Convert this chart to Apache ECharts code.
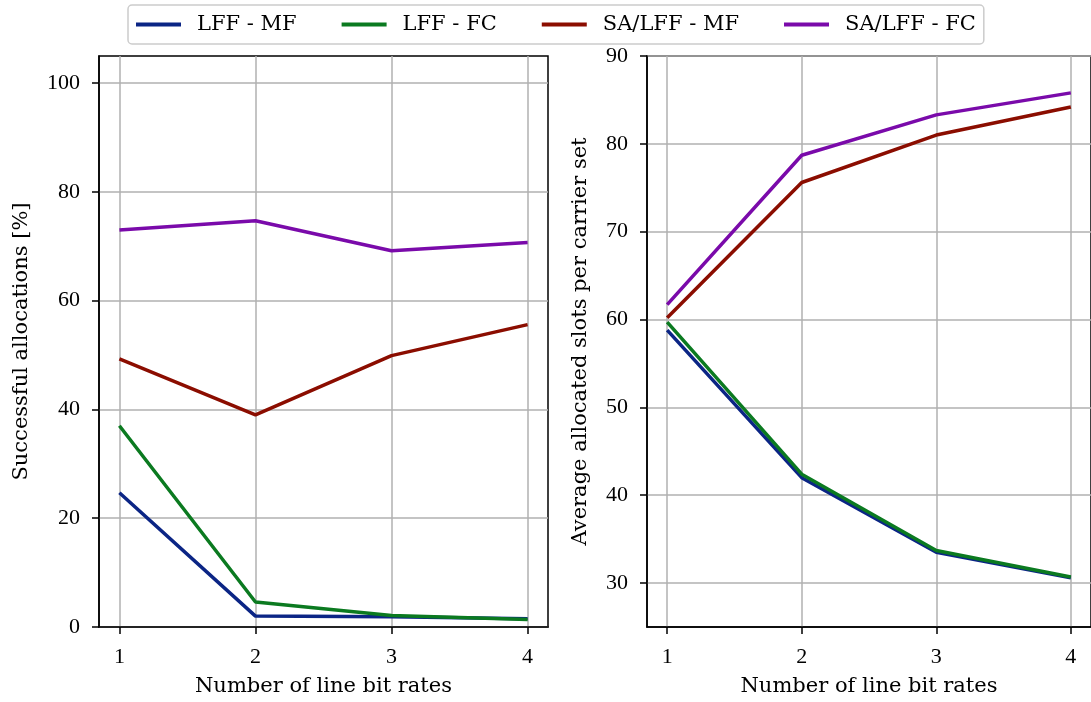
<!DOCTYPE html>
<html>
<head>
<meta charset="utf-8">
<script src="https://cdn.jsdelivr.net/npm/echarts@6/dist/echarts.min.js"></script>
<style>html,body{margin:0;padding:0;background:#fff;}#c{width:1091px;height:702px;}</style>
</head>
<body>
<div id="c"></div>
<script>
const xValues = [1, 2, 3, 4];
const seriesNames = ['LFF - MF', 'LFF - FC', 'SA/LFF - MF', 'SA/LFF - FC'];
const colors = ['#0b2585', '#0b7a20', '#8b0d00', '#7a0aaa'];

// Left: successful allocations [%]
const successLffMf = [24.7, 2.0, 1.9, 1.5];
const successLffFc = [37.0, 4.6, 2.1, 1.4];
const successSaMf = [49.3, 39.0, 49.9, 55.6];
const successSaFc = [73.0, 74.7, 69.2, 70.7];

// Right: average allocated slots per carrier set
const slotsLffMf = [58.8, 42.0, 33.5, 30.6];
const slotsLffFc = [59.7, 42.4, 33.7, 30.7];
const slotsSaMf = [60.2, 75.6, 81.0, 84.2];
const slotsSaFc = [61.7, 78.7, 83.3, 85.8];

const leftTicks = [0, 20, 40, 60, 80, 100];
const rightTicks = [30, 40, 50, 60, 70, 80, 90];

const NUM_FONT = 'Liberation Serif';
const NUM_FS = 22;
const TXT_FONT = 'DejaVu Serif';
const TXT_FS = 21;

function pairs(vals) { return xValues.map((x, i) => [x, vals[i]]); }

const leftData = [successLffMf, successLffFc, successSaMf, successSaFc];
const rightData = [slotsLffMf, slotsLffFc, slotsSaMf, slotsSaFc];

function xAxisCfg(gi) {
  return {
    gridIndex: gi, type: 'value', min: 0.85, max: 4.15,
    name: 'Number of line bit rates', nameLocation: 'middle', nameGap: 49,
    nameTextStyle: { fontFamily: TXT_FONT, fontSize: TXT_FS, color: '#000' },
    axisLine: { onZero: false, lineStyle: { color: '#000', width: 1.5 } },
    axisTick: { show: true, inside: false, length: 7, lineStyle: { color: '#000', width: 1.5 }, customValues: xValues },
    axisLabel: { fontFamily: NUM_FONT, fontSize: NUM_FS, color: '#000', margin: 19, customValues: xValues },
    splitLine: { show: true, lineStyle: { color: '#b0b0b0', width: 1.5 } }
  };
}
function yAxisCfg(gi, min, max, ticks, name) {
  return {
    gridIndex: gi, type: 'value', min: min, max: max,
    name: name, nameLocation: 'middle', nameGap: gi === 0 ? 67 : 56,
    nameTextStyle: { fontFamily: TXT_FONT, fontSize: TXT_FS, color: '#000' },
    axisLine: { onZero: false, lineStyle: { color: '#000', width: 1.5 } },
    axisTick: { show: true, inside: false, length: 7, lineStyle: { color: '#000', width: 1.5 }, customValues: ticks },
    axisLabel: { fontFamily: NUM_FONT, fontSize: NUM_FS, color: '#000', margin: 19, customValues: ticks },
    splitLine: { show: true, lineStyle: { color: '#b0b0b0', width: 1.5 } }
  };
}

const series = [];
seriesNames.forEach((n, i) => {
  series.push({ name: n, type: 'line', xAxisIndex: 0, yAxisIndex: 0, data: pairs(leftData[i]),
    showSymbol: false, symbol: 'none', lineStyle: { width: 3.5, color: colors[i] }, itemStyle: { color: colors[i] }, z: 3, animation: false });
  series.push({ name: n, type: 'line', xAxisIndex: 1, yAxisIndex: 1, data: pairs(rightData[i]),
    showSymbol: false, symbol: 'none', lineStyle: { width: 3.5, color: colors[i] }, itemStyle: { color: colors[i] }, z: 3, animation: false });
});

const chart = echarts.init(document.getElementById('c'), null, { renderer: 'canvas' });
chart.setOption({
  animation: false,
  backgroundColor: '#fff',
  legend: {
    data: seriesNames, left: 128, top: 5,
    itemWidth: 45, itemHeight: 4, itemGap: 45,
    icon: 'rect',
    padding: [9, 8, 9, 8],
    borderColor: '#cccccc', borderWidth: 1.5, borderRadius: 4,
    textStyle: { fontFamily: TXT_FONT, fontSize: TXT_FS, color: '#000', padding: [0, 0, 0, 11] }
  },
  grid: [
    { left: 99, top: 56, width: 449, height: 573, show: true, borderColor: '#000', borderWidth: 1.5, backgroundColor: 'transparent' },
    { left: 647, top: 56, width: 447, height: 573, show: true, borderColor: '#000', borderWidth: 1.5, backgroundColor: 'transparent' }
  ],
  xAxis: [xAxisCfg(0), xAxisCfg(1)],
  yAxis: [
    yAxisCfg(0, 0, 105, leftTicks, 'Successful allocations [%]'),
    yAxisCfg(1, 25, 90, rightTicks, 'Average allocated slots per carrier set')
  ],
  series: series
});
</script>
</body>
</html>
